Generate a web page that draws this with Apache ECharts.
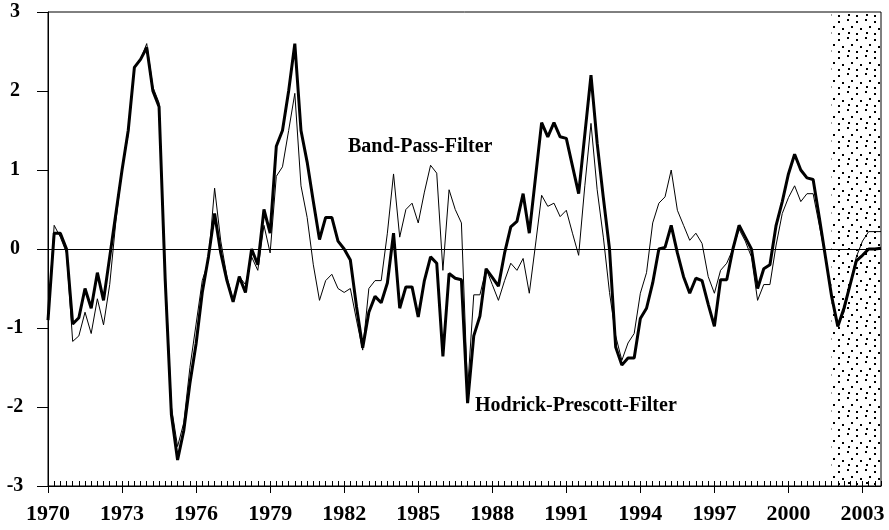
<!DOCTYPE html>
<html>
<head>
<meta charset="utf-8">
<script src="https://cdn.jsdelivr.net/npm/echarts@6/dist/echarts.min.js"></script>
<style>
html, body { margin: 0; padding: 0; background: #fff; }
#chart { width: 889px; height: 530px; }
</style>
</head>
<body>
<div id="chart"></div>
<script>
// quarterly data 1970 Q1 - 2003 Q4
var years = [];
for (var y = 1970; y <= 2003; y++) years.push(y);
var quarters = [];
years.forEach(function (y) {
    ['Q1', 'Q2', 'Q3', 'Q4'].forEach(function (q) { quarters.push(y + ' ' + q); });
});
var yTicks = [-3, -2, -1, 0, 1, 2, 3];
var forecastStart = '2001 Q4';

// Hodrick-Prescott-Filter (thick line)
var hpFilter = [
    -0.9, 0.2, 0.2, 0.0, -0.95, -0.87, -0.5, -0.75,
    -0.3, -0.65, -0.1, 0.45, 1.0, 1.5, 2.3, 2.4,
    2.55, 2.0, 1.8, -0.4, -2.1, -2.67, -2.3, -1.7,
    -1.2, -0.55, -0.1, 0.45, -0.05, -0.4, -0.67, -0.35,
    -0.55, 0.0, -0.2, 0.5, 0.2, 1.3, 1.5, 2.0,
    2.6, 1.5, 1.1, 0.6, 0.12, 0.4, 0.4, 0.1,
    0.0, -0.14, -0.73, -1.25, -0.8, -0.6, -0.68, -0.43,
    0.2, -0.75, -0.48, -0.48, -0.86, -0.4, -0.1, -0.18,
    -1.36, -0.31, -0.37, -0.39, -1.95, -1.1, -0.85, -0.25,
    -0.36, -0.47, -0.05, 0.28, 0.35, 0.7, 0.2, 0.9,
    1.6, 1.42, 1.6, 1.42, 1.4, 1.05, 0.7, 1.45,
    2.2, 1.34, 0.65, 0.0, -1.24, -1.47, -1.38, -1.38,
    -0.88, -0.75, -0.43, 0.0, 0.02, 0.3, -0.05, -0.35,
    -0.56, -0.37, -0.4, -0.7, -0.98, -0.39, -0.39, 0.0,
    0.3, 0.15, 0.0, -0.5, -0.25, -0.2, 0.3, 0.6,
    0.95, 1.2, 1.0, 0.9, 0.88, 0.4, -0.1, -0.6,
    -0.98, -0.75, -0.45, -0.15, -0.08, 0.0, 0.0, 0.01
];

// Band-Pass-Filter (thin line)
var bpFilter = [
    -0.85, 0.3, 0.15, -0.05, -1.17, -1.1, -0.8, -1.07,
    -0.63, -0.96, -0.45, 0.35, 1.0, 1.45, 2.3, 2.4,
    2.6, 2.05, 1.85, -0.3, -2.0, -2.5, -2.2, -1.5,
    -0.95, -0.4, -0.15, 0.77, 0.1, -0.35, -0.65, -0.35,
    -0.45, -0.1, -0.27, 0.3, -0.05, 0.92, 1.04, 1.5,
    1.97, 0.8, 0.4, -0.2, -0.65, -0.4, -0.32, -0.5,
    -0.55, -0.5, -0.9, -1.28, -0.5, -0.4, -0.4, 0.2,
    0.95, 0.15, 0.5, 0.58, 0.33, 0.72, 1.06, 0.96,
    -0.27, 0.75, 0.5, 0.33, -1.78, -0.58, -0.58, -0.25,
    -0.45, -0.65, -0.4, -0.18, -0.27, -0.12, -0.56, 0.05,
    0.68, 0.54, 0.58, 0.41, 0.49, 0.2, -0.08, 0.8,
    1.59, 0.75, 0.15, -0.55, -1.1, -1.41, -1.19, -1.07,
    -0.56, -0.3, 0.33, 0.58, 0.66, 1.0, 0.49, 0.3,
    0.11, 0.2, 0.07, -0.35, -0.56, -0.27, -0.18, 0.0,
    0.25, 0.1, -0.1, -0.65, -0.45, -0.45, 0.05, 0.45,
    0.65, 0.8, 0.6, 0.7, 0.7, 0.3, -0.1, -0.6,
    -0.95, -0.8, -0.45, -0.1, 0.1, 0.22, 0.22, 0.22
];

var serif = '"Liberation Serif", "Times New Roman", serif';

// dotted fill for the forecast period
function dotPattern() {
    var c = document.createElement('canvas');
    c.width = 18;
    c.height = 18;
    var ctx = c.getContext('2d');
    ctx.fillStyle = '#000';
    [[1, 1], [10, 3], [5, 8], [14, 10], [2, 14], [10, 15]].forEach(function (p) {
        ctx.fillRect(p[0], p[1], 2, 2);
    });
    return c;
}

var myChart = echarts.init(document.getElementById('chart'));
var option = {
    animation: false,
    backgroundColor: '#fff',
    grid: {
        left: 48,
        right: 8,
        top: 12,
        bottom: 44,
        show: true,
        borderColor: '#000',
        borderWidth: 1
    },
    xAxis: [
        {
            // year labels every three years, ticks below the axis
            type: 'category',
            data: quarters,
            boundaryGap: false,
            position: 'bottom',
            axisLine: { show: true, onZero: false, lineStyle: { color: '#000', width: 1 } },
            axisTick: {
                show: true,
                interval: function (i) { return i % 12 === 0; },
                length: 7,
                lineStyle: { color: '#000' }
            },
            axisLabel: {
                interval: function (i) { return i % 12 === 0; },
                formatter: function (v) { return v.slice(0, 4); },
                fontFamily: serif,
                fontWeight: 'bold',
                fontSize: 22,
                color: '#000',
                margin: 17
            },
            splitLine: { show: false }
        },
        {
            // helper axis over the quarter index, only for the small ticks
            // pointing up from the bottom axis
            type: 'value',
            min: 0,
            max: quarters.length - 1,
            interval: 4,
            position: 'top',
            offset: -474,
            axisLine: { show: false, onZero: false },
            axisTick: { show: true, length: 5, lineStyle: { color: '#000' } },
            minorTick: { show: true, splitNumber: 4, length: 5, lineStyle: { color: '#000' } },
            axisLabel: { show: false },
            splitLine: { show: false },
            minorSplitLine: { show: false }
        }
    ],
    yAxis: {
        type: 'value',
        min: yTicks[0],
        max: yTicks[yTicks.length - 1],
        interval: 1,
        axisLine: { show: true, lineStyle: { color: '#000' } },
        axisTick: { show: true, length: 11, lineStyle: { color: '#000' } },
        axisLabel: {
            align: 'center',
            margin: 33,
            fontFamily: serif,
            fontWeight: 'bold',
            fontSize: 20,
            color: '#000'
        },
        splitLine: { show: false }
    },
    graphic: [
        {
            type: 'text',
            left: 348,
            top: 137,
            style: { text: 'Band-Pass-Filter', font: 'bold 20px ' + serif, fill: '#000' }
        },
        {
            type: 'text',
            left: 475,
            top: 396,
            style: { text: 'Hodrick-Prescott-Filter', font: 'bold 20px ' + serif, fill: '#000' }
        }
    ],
    series: [
        {
            name: 'Band-Pass-Filter',
            type: 'line',
            xAxisIndex: 0,
            data: bpFilter,
            symbol: 'none',
            lineStyle: { color: '#000', width: 1 },
            z: 2,
            markArea: {
                silent: true,
                itemStyle: { color: { image: dotPattern(), repeat: 'repeat' } },
                data: [[{ xAxis: forecastStart }, { xAxis: quarters[quarters.length - 1] }]]
            }
        },
        {
            name: 'Hodrick-Prescott-Filter',
            type: 'line',
            xAxisIndex: 0,
            data: hpFilter,
            symbol: 'none',
            lineStyle: { color: '#000', width: 3 },
            z: 3,
            markLine: {
                silent: true,
                symbol: 'none',
                label: { show: false },
                lineStyle: { color: '#000', width: 1, type: 'solid' },
                data: [{ yAxis: 0 }]
            }
        }
    ]
};
myChart.setOption(option);
</script>
</body>
</html>
